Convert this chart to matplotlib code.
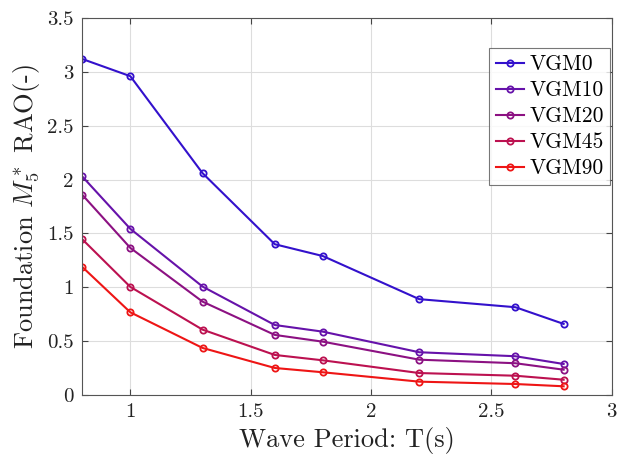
import matplotlib
matplotlib.use("Agg")
import matplotlib.pyplot as plt

# wave periods (s)
periods = [0.8, 1.0, 1.3, 1.6, 1.8, 2.2, 2.6, 2.8]

# foundation M5* RAO per case
vgm0 = [3.12, 2.96, 2.06, 1.40, 1.29, 0.89, 0.815, 0.66]
vgm10 = [2.03, 1.543, 1.007, 0.65, 0.588, 0.397, 0.36, 0.288]
vgm20 = [1.86, 1.366, 0.867, 0.558, 0.495, 0.328, 0.295, 0.235]
vgm45 = [1.447, 1.004, 0.607, 0.372, 0.322, 0.204, 0.179, 0.142]
vgm90 = [1.19, 0.768, 0.437, 0.251, 0.211, 0.124, 0.102, 0.081]

names = ["VGM0", "VGM10", "VGM20", "VGM45", "VGM90"]
colors = ["#3311cc", "#6612aa", "#8c1182", "#bc1150", "#ee1515"]

plt.rcParams["font.family"] = "serif"
plt.rcParams["font.serif"] = ["cmr10"]
plt.rcParams["mathtext.fontset"] = "cm"
plt.rcParams["axes.formatter.use_mathtext"] = True

fig = plt.figure(figsize=(6.32, 4.62), dpi=100)
ax = fig.add_axes([0.130, 0.145, 0.838, 0.816])

for name, vals, c in zip(names, [vgm0, vgm10, vgm20, vgm45, vgm90], colors):
    ax.plot(periods, vals, color=c, linewidth=1.5, marker="o",
            markersize=4.5, markerfacecolor="none", markeredgewidth=1.3,
            label=name)

ax.set_xlim(0.8, 3)
ax.set_ylim(0, 3.5)
ax.set_xticks([1, 1.5, 2, 2.5, 3])
ax.set_xticklabels(["1", "1.5", "2", "2.5", "3"])
ax.set_yticks([0, 0.5, 1, 1.5, 2, 2.5, 3, 3.5])
ax.set_yticklabels(["0", "0.5", "1", "1.5", "2", "2.5", "3", "3.5"])

ax.grid(True, color="#dddddd", linewidth=0.8)
ax.set_axisbelow(True)
ax.tick_params(direction="in", top=True, right=True, labelsize=15,
               color="#444444", length=4, pad=6, labelcolor="#222222")
for s in ax.spines.values():
    s.set_color("#555555")
    s.set_linewidth(0.8)

ax.set_xlabel("Wave Period: T(s)", fontsize=19, color="#222222", labelpad=4)
ax.set_ylabel("Foundation $M_5^*$ RAO(-)", fontsize=19, color="#222222",
              labelpad=4)

leg = ax.legend(loc="upper right", bbox_to_anchor=(0.997, 0.92),
                fontsize=15.5, frameon=True, fancybox=False,
                handlelength=1.3, handletextpad=0.25, borderpad=0.3,
                labelspacing=0.3, borderaxespad=0.0)
leg.get_frame().set_edgecolor("#555555")
leg.get_frame().set_linewidth(0.8)

plt.savefig("out.png", dpi=100)
